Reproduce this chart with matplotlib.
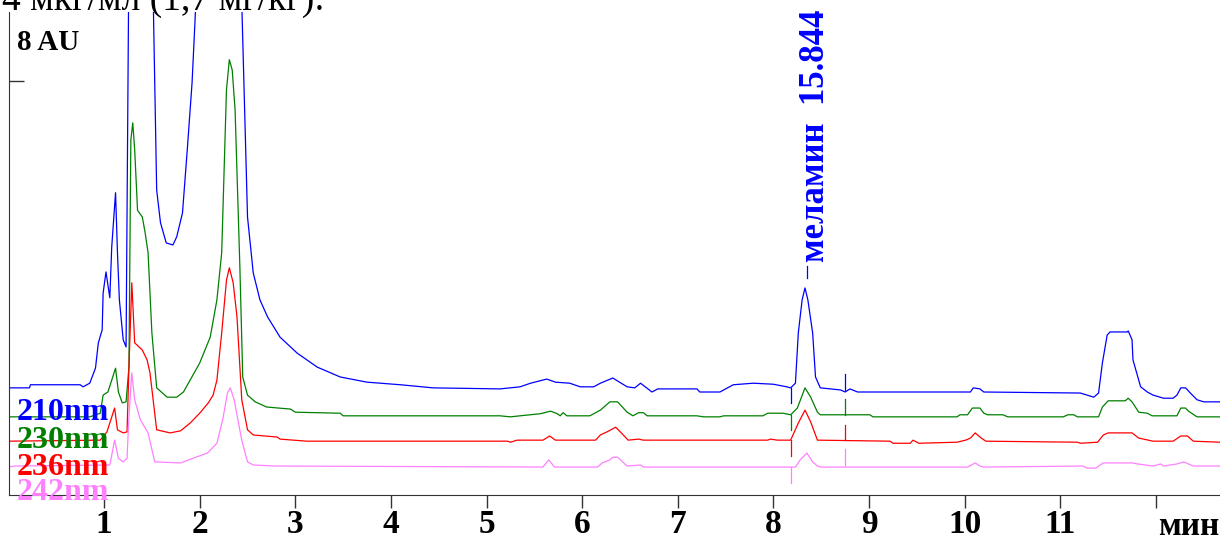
import matplotlib.pyplot as plt

# время, мин / сигнал, AU (четыре длины волны)
t210 = [0.0, 0.22, 0.23, 0.75, 0.78, 0.85, 0.91, 0.94, 0.98, 0.99, 1.02, 1.06, 1.08, 1.12, 1.14, 1.16,
        1.20, 1.23, 1.26, 1.30, 1.45, 1.51, 1.55, 1.59, 1.65, 1.72, 1.76, 1.82, 1.87, 1.92, 1.95, 1.97,
        2.10, 2.30, 2.44, 2.50, 2.56, 2.63, 2.71, 2.84, 3.02, 3.23, 3.47, 3.75, 4.10, 4.44, 5.14, 5.35,
        5.46, 5.63, 5.72, 5.87, 5.98, 6.12, 6.19, 6.32, 6.47, 6.55, 6.61, 6.73, 6.79, 7.20, 7.23, 7.44,
        7.58, 7.79, 8.00, 8.14, 8.18, 8.23, 8.26, 8.30, 8.33, 8.36, 8.41, 8.44, 8.49, 8.70, 8.75, 8.80,
        8.88, 10.06, 10.09, 10.16, 10.20, 11.21, 11.35, 11.40, 11.44, 11.49, 11.52, 11.70, 11.71, 11.75,
        11.76, 11.84, 11.91, 11.97, 12.08, 12.18, 12.22, 12.26, 12.31, 12.36, 12.43, 12.50, 12.67]
v210 = [2.07, 2.07, 2.13, 2.13, 2.09, 2.16, 2.45, 2.94, 3.19, 3.90, 4.31, 3.81, 4.79, 5.84, 4.68, 3.77,
        3.00, 2.86, 10.5, 14.0, 12.0, 10.0, 5.89, 5.26, 4.87, 4.83, 4.99, 5.45, 6.67, 7.96, 9.12, 10.0,
        13.0, 14.0, 9.5, 5.37, 4.29, 3.77, 3.44, 3.05, 2.74, 2.47, 2.28, 2.18, 2.13, 2.07, 2.05, 2.09,
        2.16, 2.24, 2.18, 2.16, 2.09, 2.09, 2.16, 2.26, 2.09, 2.07, 2.16, 1.99, 2.05, 2.05, 1.99, 1.99,
        2.13, 2.16, 2.14, 2.09, 2.07, 2.16, 3.13, 3.77, 4.00, 3.77, 3.13, 2.28, 2.07, 2.03, 1.99, 2.05,
        1.99, 1.99, 2.07, 2.05, 1.99, 1.97, 1.89, 1.97, 2.55, 3.09, 3.15, 3.15, 3.17, 3.00,
        2.61, 2.09, 1.99, 1.93, 1.87, 1.87, 1.93, 2.07, 2.07, 1.97, 1.84, 1.80, 1.80]

t230 = [0.0, 0.85, 0.96, 0.99, 1.04, 1.12, 1.15, 1.19, 1.23, 1.26, 1.28, 1.30, 1.32, 1.35, 1.40, 1.43,
        1.46, 1.50, 1.55, 1.66, 1.76, 1.83, 1.90, 2.00, 2.11, 2.18, 2.23, 2.28, 2.31, 2.34, 2.37, 2.42,
        2.45, 2.50, 2.58, 2.70, 2.95, 3.00, 3.47, 3.50, 5.14, 5.25, 5.35, 5.56, 5.67, 5.74, 5.77, 5.80,
        5.84, 6.08, 6.19, 6.29, 6.37, 6.47, 6.53, 6.59, 6.64, 6.68, 7.20, 7.27, 7.44, 7.48, 7.89, 7.94,
        8.10, 8.18, 8.25, 8.33, 8.39, 8.46, 8.49, 9.01, 9.04, 9.92, 9.95, 10.03, 10.08, 10.16, 10.20,
        10.24, 10.40, 10.45, 11.03, 11.08, 11.14, 11.18, 11.40, 11.44, 11.50, 11.68, 11.71, 11.75, 11.82,
        11.91, 11.96, 12.22, 12.26, 12.31, 12.34, 12.43, 12.67]
v230 = [1.51, 1.51, 1.58, 1.93, 1.99, 2.45, 1.99, 1.78, 1.80, 2.47, 6.86, 7.19, 6.67, 5.50, 5.37, 5.06,
        4.68, 3.13, 2.07, 1.89, 1.89, 1.99, 2.22, 2.55, 3.05, 3.77, 4.68, 7.83, 8.41, 8.21, 7.44, 4.41,
        2.28, 1.93, 1.80, 1.70, 1.66, 1.60, 1.58, 1.53, 1.53, 1.51, 1.53, 1.57, 1.62, 1.57, 1.53, 1.59,
        1.53, 1.53, 1.64, 1.80, 1.80, 1.60, 1.53, 1.59, 1.59, 1.53, 1.53, 1.51, 1.51, 1.53, 1.53, 1.58,
        1.58, 1.55, 1.68, 2.07, 1.89, 1.60, 1.55, 1.55, 1.51, 1.51, 1.55, 1.55, 1.68, 1.68, 1.58,
        1.55, 1.55, 1.51, 1.51, 1.55, 1.55, 1.51, 1.51, 1.70, 1.82, 1.82, 1.87, 1.80, 1.60,
        1.58, 1.53, 1.53, 1.68, 1.68, 1.62, 1.51, 1.51]

t236 = [0.0, 0.96, 1.03, 1.11, 1.14, 1.20, 1.24, 1.26, 1.29, 1.32, 1.40, 1.45, 1.48, 1.55, 1.69, 1.80,
        1.90, 2.00, 2.09, 2.14, 2.18, 2.23, 2.28, 2.31, 2.35, 2.39, 2.44, 2.50, 2.56, 2.81, 2.84, 3.12,
        5.22, 5.25, 5.32, 5.59, 5.66, 5.72, 6.14, 6.19, 6.26, 6.35, 6.43, 6.48, 6.59, 6.64, 7.94, 7.97,
        8.04, 8.18, 8.26, 8.33, 8.39, 8.46, 9.22, 9.25, 9.43, 9.46, 9.52, 9.92, 10.01, 10.06, 10.11,
        10.16, 10.22, 11.18, 11.21, 11.39, 11.45, 11.50, 11.75, 11.82, 11.97, 12.18, 12.26, 12.33, 12.39,
        12.67]
v236 = [1.04, 1.06, 1.22, 1.68, 1.26, 1.20, 1.22, 2.47, 4.10, 2.94, 2.80, 2.61, 2.36, 1.26, 1.20, 1.24,
        1.39, 1.58, 1.78, 1.93, 2.22, 3.13, 4.15, 4.39, 4.10, 3.44, 1.84, 1.26, 1.16, 1.12, 1.08, 1.04,
        1.04, 1.02, 1.06, 1.06, 1.14, 1.06, 1.06, 1.16, 1.22, 1.31, 1.16, 1.06, 1.08, 1.06, 1.06, 1.08,
        1.06, 1.06, 1.39, 1.64, 1.41, 1.06, 1.04, 1.00, 1.00, 1.06, 1.00, 1.02, 1.06, 1.10, 1.20,
        1.12, 1.04, 1.02, 1.00, 1.02, 1.16, 1.20, 1.20, 1.10, 1.04, 1.04, 1.14, 1.14, 1.04,
        1.02]

t242 = [0.0, 0.06, 1.06, 1.11, 1.15, 1.20, 1.24, 1.26, 1.29, 1.32, 1.38, 1.46, 1.53, 1.80, 1.93, 2.08,
        2.18, 2.24, 2.29, 2.32, 2.36, 2.44, 2.50, 2.56, 2.79, 5.59, 5.65, 5.71, 6.16, 6.21, 6.29, 6.32,
        6.37, 6.47, 6.61, 6.64, 8.23, 8.28, 8.35, 8.41, 8.46, 8.50, 10.03, 10.11, 10.16, 10.20, 11.24,
        11.28, 11.37, 11.45, 11.75, 11.81, 11.97, 12.05, 12.08, 12.22, 12.29, 12.34, 12.39, 12.67]
v242 = [0.54, 0.56, 0.58, 1.06, 0.71, 0.64, 0.71, 1.51, 2.36, 1.84, 1.45, 1.20, 0.64, 0.62, 0.71, 0.81,
        1.00, 1.45, 1.97, 2.07, 1.84, 1.06, 0.64, 0.58, 0.56, 0.54, 0.68, 0.54, 0.54, 0.62, 0.68, 0.73,
        0.73, 0.56, 0.58, 0.54, 0.54, 0.68, 0.81, 0.64, 0.56, 0.54, 0.54, 0.62, 0.56, 0.54, 0.56,
        0.52, 0.52, 0.62, 0.62, 0.60, 0.56, 0.60, 0.56, 0.60, 0.64, 0.60, 0.56, 0.56]

labels = ['210nm', '230nm', '236nm', '242nm']
colors = ['#0000ff', '#008000', '#ff0000', '#ff80ff']

# границы интегрирования пика меламина
peak_start = 8.18
peak_end = 8.75
start_base = [2.07, 1.55, 1.06, 0.54]
end_base = [2.03, 1.55, 1.06, 0.58]
mark_len = 0.3

peak_name = 'меламин  15.844'
peak_time = 8.35
peak_top = 4.00

xticks = [1, 2, 3, 4, 5, 6, 7, 8, 9, 10, 11, 12]
xticklabels = ['1', '2', '3', '4', '5', '6', '7', '8', '9', '10', '11', '']

serif = ['Liberation Serif', 'DejaVu Serif']

fig = plt.figure(figsize=(12.2, 5.4), dpi=100)
ax = fig.add_axes([0.0074, 0.0833, 0.9926, 0.8944])

traces = [(t210, v210), (t230, v230), (t236, v236), (t242, v242)]
for (t, v), c in zip(traces, colors):
    ax.plot(t, v, color=c, lw=0.9)

for i, c in enumerate(colors):
    ax.plot([peak_start, peak_start], [start_base[i], start_base[i] - mark_len], color=c, lw=0.9)
    ax.plot([peak_end, peak_end], [end_base[i], end_base[i] + mark_len], color=c, lw=0.9)

ax.plot([peak_time, peak_time], [peak_top + 0.2, peak_top + 0.42], color='#0000ff', lw=0.9)
ax.text(peak_time + 0.09, peak_top + 0.5, peak_name, rotation=90, ha='center', va='bottom',
        color='#0000ff', fontsize=25, fontweight='bold', family=serif)

ax.set_xlim(0.006, 12.67)
ax.set_ylim(0, 9.33)

ax.spines['top'].set_visible(False)
ax.spines['right'].set_visible(False)
ax.spines['left'].set_color('#333333')
ax.spines['bottom'].set_color('#333333')

ax.set_xticks(xticks)
ax.set_xticklabels(xticklabels, fontsize=24, fontweight='bold', family=serif)
ax.tick_params(axis='x', direction='out', length=9, width=1, pad=1, colors='#333333', labelcolor='black')
ax.set_yticks([8])
ax.set_yticklabels([''])
ax.tick_params(axis='y', direction='in', length=11, width=1, colors='#333333')

ax.text(12.34, -0.3, 'мин', ha='center', va='top', fontsize=24, fontweight='bold', family=serif)
ax.text(0.09, 8.6, '8 AU', ha='left', va='baseline', fontsize=21, fontweight='bold', family=serif)

label_y = [1.45, 0.91, 0.39, -0.10]
for lab, c, y in zip(labels, colors, label_y):
    ax.text(0.09, y, lab, color=c, ha='left', va='baseline', fontsize=23, fontweight='bold',
            family=serif, zorder=5)

fig.text(0.002, 0.9815, '4 мкг/мл (1,7 мг/кг):', ha='left', va='baseline', fontsize=27, family=serif)

fig.savefig('out.png', dpi=100)
